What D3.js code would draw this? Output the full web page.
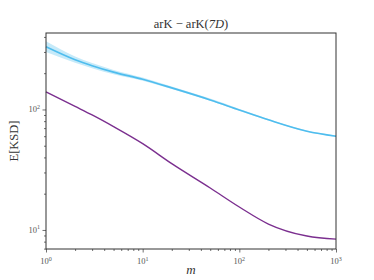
<!DOCTYPE html>
<html>
<head>
<meta charset="utf-8">
<script src="https://cdn.jsdelivr.net/npm/d3@7"></script>
<style>
  body { margin: 0; background: #fff; }
  text { font-family: "Liberation Serif", "DejaVu Serif", serif; }
</style>
</head>
<body>
<div id="chart"></div>
<script>
var mValues = [1, 2, 3, 5, 10, 20, 50, 100, 200, 500, 1000]
var blueMean = [332, 259, 231, 204, 178, 151, 120, 99, 82, 66, 60]
var blueLow = [300, 244, 220, 196, 173, 148, 118, 97.5, 81, 65.3, 59.4]
var blueHigh = [368, 275, 243, 213, 184, 155, 123, 101, 83.5, 67, 60.8]
var purpleMean = [140, 106, 90, 72, 52, 35.5, 22.3, 15.5, 11.2, 8.9, 8.4]
var xTickLabels = ['0', '1', '2', '3']
var yTickLabels = ['1', '2']

var width = 374, height = 280
var margin = {top: 33, right: 38, bottom: 31, left: 46}
var w = width - margin.left - margin.right,
    h = height - margin.top - margin.bottom

var svg = d3.select('#chart').append('svg')
  .attr('width', width)
  .attr('height', height)

var g = svg.append('g')
  .attr('transform', 'translate(' + margin.left + ',' + margin.top + ')')

var xScale = d3.scaleLog().domain([1, 1000]).range([0, w])
var yScale = d3.scaleLog().domain([6.95, 431]).range([h, 0])

// band
var area = d3.area()
  .x((d, i) => xScale(mValues[i]))
  .y0((d, i) => yScale(blueLow[i]))
  .y1((d, i) => yScale(blueHigh[i]))
  .curve(d3.curveMonotoneX)

var line = d3.line()
  .x((d, i) => xScale(mValues[i]))
  .y(d => yScale(d))
  .curve(d3.curveMonotoneX)

g.append('path')
  .datum(blueMean)
  .attr('d', area)
  .attr('fill', '#5bc2ef')
  .attr('opacity', 0.35)

g.append('path')
  .datum(blueMean)
  .attr('d', line)
  .attr('fill', 'none')
  .attr('stroke', '#4fbdee')
  .attr('stroke-width', 1.6)

g.append('path')
  .datum(purpleMean)
  .attr('d', line)
  .attr('fill', 'none')
  .attr('stroke', '#7b2f8f')
  .attr('stroke-width', 1.4)

// ticks
var xMinor = []
for (var e = 0; e < 3; e++) for (var k = 2; k <= 9; k++) xMinor.push(k * Math.pow(10, e))
var yMinor = []
for (var e = 0; e < 3; e++) for (var k = 2; k <= 9; k++) {
  var v = k * Math.pow(10, e)
  if (v > 6.95 && v < 431) yMinor.push(v)
}

var xAxisMinor = d3.axisBottom(xScale).tickValues(xMinor).tickSize(2).tickFormat('')
var xAxisMajor = d3.axisBottom(xScale).tickValues([1, 10, 100, 1000]).tickSize(3.5).tickFormat('')
var yAxisMinor = d3.axisLeft(yScale).tickValues(yMinor).tickSize(2).tickFormat('')
var yAxisMajor = d3.axisLeft(yScale).tickValues([10, 100]).tickSize(3.5).tickFormat('')

;[xAxisMinor, xAxisMajor].forEach(function(ax) {
  g.append('g').attr('transform', 'translate(0,' + h + ')').call(ax)
    .call(s => s.select('.domain').remove())
    .selectAll('line').attr('stroke', '#333').attr('stroke-width', 0.7)
})
;[yAxisMinor, yAxisMajor].forEach(function(ax) {
  g.append('g').call(ax)
    .call(s => s.select('.domain').remove())
    .selectAll('line').attr('stroke', '#333').attr('stroke-width', 0.7)
})

// tick labels
;[1, 10, 100, 1000].forEach(function(v, i) {
  var t = g.append('text')
    .attr('x', xScale(v))
    .attr('y', h + 15)
    .attr('text-anchor', 'middle')
    .attr('font-size', 8.5)
    .attr('fill', '#555')
  t.append('tspan').text('10')
  t.append('tspan').attr('dy', -3.5).attr('font-size', 6).text(xTickLabels[i])
})
;[10, 100].forEach(function(v, i) {
  var t = g.append('text')
    .attr('x', -6)
    .attr('y', yScale(v) + 3)
    .attr('text-anchor', 'end')
    .attr('font-size', 8.5)
    .attr('fill', '#555')
  t.append('tspan').text('10')
  t.append('tspan').attr('dy', -3.5).attr('font-size', 6).text(yTickLabels[i])
})

// frame
g.append('rect')
  .attr('width', w)
  .attr('height', h)
  .attr('fill', 'none')
  .attr('stroke', '#333')
  .attr('stroke-width', 1)

// title
var title = svg.append('text')
  .attr('x', margin.left + w / 2)
  .attr('y', 28)
  .attr('text-anchor', 'middle')
  .attr('font-size', 12.5)
  .attr('fill', '#333')
title.append('tspan').text('arK \u2212 arK(')
title.append('tspan').attr('font-style', 'italic').text('7D')
title.append('tspan').text(')')

svg.append('text')
  .attr('transform', 'translate(18,' + (margin.top + h / 2) + ') rotate(-90)')
  .attr('text-anchor', 'middle')
  .attr('font-size', 12.5)
  .attr('fill', '#333')
  .text('E[KSD]')

svg.append('text')
  .attr('x', margin.left + w / 2)
  .attr('y', 274)
  .attr('text-anchor', 'middle')
  .attr('font-size', 13)
  .attr('font-style', 'italic')
  .attr('fill', '#333')
  .text('m')
</script>
</body>
</html>
